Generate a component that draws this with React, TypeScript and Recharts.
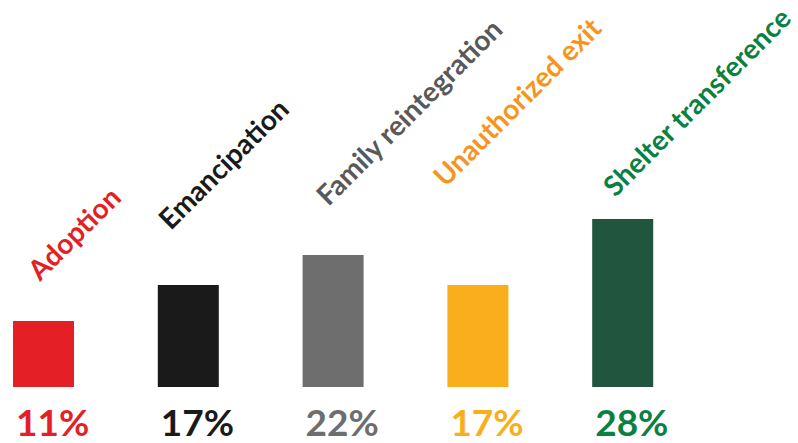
import React from "react";
import { BarChart, Bar, XAxis, YAxis, Cell, LabelList } from "recharts";

const categories = ["Adoption", "Emancipation", "Family reintegration", "Unauthorized exit", "Shelter transference"];
const shares = [11, 17, 22, 17, 28];
const percentLabels = ["11%", "17%", "22%", "17%", "28%"];

const barColors = ["#e41f26", "#1a1a1a", "#6e6e6e", "#f9ae1b", "#21553e"];
const nameColors = ["#e41f26", "#1a1a1a", "#58595b", "#f7941d", "#0b8043"];
const pctColors = ["#e41f26", "#1a1a1a", "#6d6e70", "#f9ae1b", "#0b8043"];
// hand-placed offsets of rotated names (relative to bar top-left)
const nameOffsets = [
  [27, -39],
  [13, -54],
  [26, -48],
  [-2, -97],
  [23, -21],
];

const data = categories.map((c, i) => ({ name: c, value: shares[i], pct: percentLabels[i] }));

const FONT = "Lato, 'Open Sans', sans-serif";

const NameLabel = (props: any) => {
  const { x, y, index } = props;
  const [dx, dy] = nameOffsets[index];
  const px = x + dx;
  const py = y + dy;
  return (
    <text
      x={px}
      y={py}
      transform={`rotate(-45, ${px}, ${py})`}
      fill={nameColors[index]}
      fontFamily={FONT}
      fontWeight={700}
      fontSize={28}
      textAnchor="start"
    >
      {categories[index]}
    </text>
  );
};

const PctLabel = (props: any) => {
  const { x, y, height, index } = props;
  return (
    <text
      x={x + 3}
      y={y + height + 49}
      fill={pctColors[index]}
      fontFamily={FONT}
      fontWeight={700}
      fontSize={37}
      textAnchor="start"
    >
      {percentLabels[index]}
    </text>
  );
};

export default function App() {
  return (
    <div style={{ position: "absolute", left: 0, top: 0, width: 798, height: 443, background: "#fff" }}>
      <BarChart
        width={798}
        height={443}
        data={data}
        margin={{ top: 0, right: 103, bottom: 56, left: -29 }}
        barCategoryGap={0}
      >
        <XAxis dataKey="name" hide />
        <YAxis hide domain={[0, 64.5]} />
        <Bar dataKey="value" barSize={61} isAnimationActive={false}>
          {data.map((d, i) => (
            <Cell key={d.name} fill={barColors[i]} />
          ))}
          <LabelList dataKey="name" content={NameLabel} />
          <LabelList dataKey="pct" content={PctLabel} />
        </Bar>
      </BarChart>
    </div>
  );
}
